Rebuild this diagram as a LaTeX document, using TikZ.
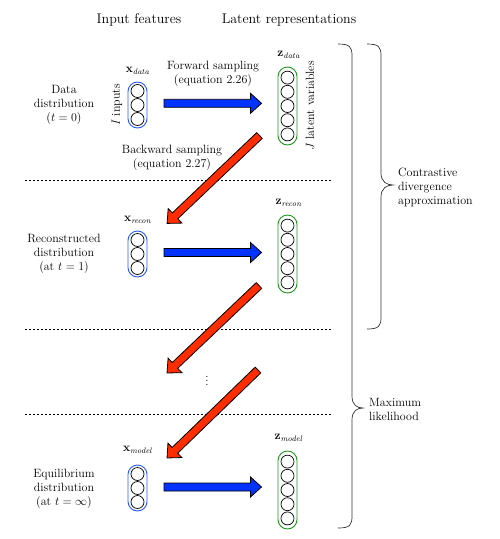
\documentclass[tikz,border=0pt]{standalone}
\usetikzlibrary{calc}
\definecolor{fblue}{RGB}{0,51,255}
\definecolor{fred}{RGB}{255,45,0}
\definecolor{lblue}{RGB}{40,90,255}
\definecolor{lgreen}{RGB}{30,150,30}
\definecolor{brc}{RGB}{50,50,50}
\newcommand{\fatarrow}[3]{%
  \path let \p1=($(#2)-(#1)$), \n1={atan2(\y1,\x1)}, \n2={veclen(\x1,\y1)} in
    [draw=black, fill=#3, line width=0.8pt, line join=miter, shift={(#1)}, rotate=\n1]
    (0,4) -- ({\n2-11},4) -- ({\n2-11},10) -- ({\n2},0) -- ({\n2-11},-10) -- ({\n2-11},-4) -- (0,-4) -- cycle;}
\newcommand{\mybrace}[6]{% x0 y0 xs xt yt y1
  \draw[brc, line width=0.7pt] (#1,#2) .. controls (#3-2,#2) and (#3,#2+3) .. (#3,#2+12)
    -- (#3,#5-12) .. controls (#3,#5-3) and (#4-6,#5) .. (#4,#5)
    .. controls (#4-6,#5) and (#3,#5+3) .. (#3,#5+12)
    -- (#3,#6-12) .. controls (#3,#6-3) and (#3-2,#6) .. (#1,#6);}
\tikzset{
  lbl/.style={font=\fontsize{12}{14}\selectfont, align=center, inner sep=0pt},
  ttl/.style={font=\fontsize{14}{16}\selectfont, inner sep=0pt},
  sub/.style={font=\fontsize{12}{14}\selectfont, inner sep=0pt},
  xcol/.style={draw=lblue, line width=0.9pt, rounded corners=9.5pt, minimum width=19pt, minimum height=46pt, inner sep=0pt},
  zcol/.style={draw=lgreen, line width=0.9pt, rounded corners=9.5pt, minimum width=19pt, minimum height=78pt, inner sep=0pt},
  unit/.style={circle, draw=black, line width=0.7pt, minimum size=13pt, inner sep=0pt},
  sepline/.style={line width=0.7pt, dash pattern=on 2pt off 2pt},
}
\begin{document}
\begin{tikzpicture}[x=1pt, y=-1pt]
\useasboundingbox (0,0) rectangle (499,539);
% titles
\node[ttl] (t1) at (139,20) {Input features};
\node[ttl] (t2) at (289,20) {Latent representations};
% separators
\coordinate (s1a) at (25,180); \coordinate (s1b) at (333,180);
\coordinate (s2a) at (25,329); \coordinate (s2b) at (333,329);
\coordinate (s3a) at (25,414); \coordinate (s3b) at (333,414);
\draw[sepline] (s1a) -- (s1b);
\draw[sepline] (s2a) -- (s2b);
\draw[sepline] (s3a) -- (s3b);
% left labels
\node[lbl] (l1) at (64,105) {Data\\distribution\\($t=0$)};
\node[lbl] (l2) at (64,254) {Reconstructed\\distribution\\(at $t=1$)};
\node[lbl] (l3) at (64,489) {Equilibrium\\distribution\\(at $t=\infty$)};
% columns
\node[xcol] (xd) at (137.5,105) {};
\node[xcol] (xr) at (137.5,254) {};
\node[xcol] (xm) at (137.5,488) {};
\node[zcol] (zd) at (287.5,106) {};
\node[zcol] (zr) at (287.5,254) {};
\node[zcol] (zm) at (287.5,490) {};
\foreach \c in {xd,xr,xm}{
  \foreach \k in {-1,0,1}{
    \node[unit] (\c u\k) at ($(\c)+(0,14*\k)$) {};
  }
}
\foreach \c in {zd,zr,zm}{
  \foreach \k in {-2,-1,0,1,2}{
    \node[unit] (\c u\k) at ($(\c)+(0,14.2*\k)$) {};
  }
}
% column labels
\node[sub] (xdl) at (138,71) {$\mathbf{x}_{\mathit{data}}$};
\node[sub] (xrl) at (138,220) {$\mathbf{x}_{\mathit{recon}}$};
\node[sub] (xml) at (138,450) {$\mathbf{x}_{\mathit{model}}$};
\node[sub] (zdl) at (289,55) {$\mathbf{z}_{\mathit{data}}$};
\node[sub] (zrl) at (289,203) {$\mathbf{z}_{\mathit{recon}}$};
\node[sub] (zml) at (289,438) {$\mathbf{z}_{\mathit{model}}$};
\node[lbl, rotate=90] (ii) at (117,105) {\textit{I} inputs};
\node[lbl, rotate=90] (jj) at (310,106) {\textit{J} latent variables};
% sampling labels
\node[lbl] (fw) at (213,74) {Forward sampling\\(equation 2.26)};
\node[lbl] (bw) at (172,157.5) {Backward sampling\\(equation 2.27)};
\node[lbl] (dots) at (207,378) {$\vdots$};
% forward arrows
\coordinate (f1s) at (164,103.3); \coordinate (f1e) at (261.5,103.3);
\coordinate (f2s) at (164,252.5); \coordinate (f2e) at (261.5,252.5);
\coordinate (f3s) at (164,487);   \coordinate (f3e) at (261.5,487);
\fatarrow{f1s}{f1e}{fblue}
\fatarrow{f2s}{f2e}{fblue}
\fatarrow{f3s}{f3e}{fblue}
% backward arrows
\coordinate (b1s) at (259.5,135.5); \coordinate (b1e) at (167,223.5);
\coordinate (b2s) at (259,285.5);   \coordinate (b2e) at (167,373);
\coordinate (b3s) at (258,370);     \coordinate (b3e) at (167,458);
\fatarrow{b1s}{b1e}{fred}
\fatarrow{b2s}{b2e}{fred}
\fatarrow{b3s}{b3e}{fred}
% braces
\mybrace{367}{44}{381}{393}{185}{329}
\mybrace{338}{44}{352}{363}{408}{528}
\node[lbl, align=left, anchor=west] (cd) at (398,187) {Contrastive\\divergence\\approximation};
\node[lbl, align=left, anchor=west] (ml) at (369,409) {Maximum\\likelihood};
\end{tikzpicture}
\end{document}
